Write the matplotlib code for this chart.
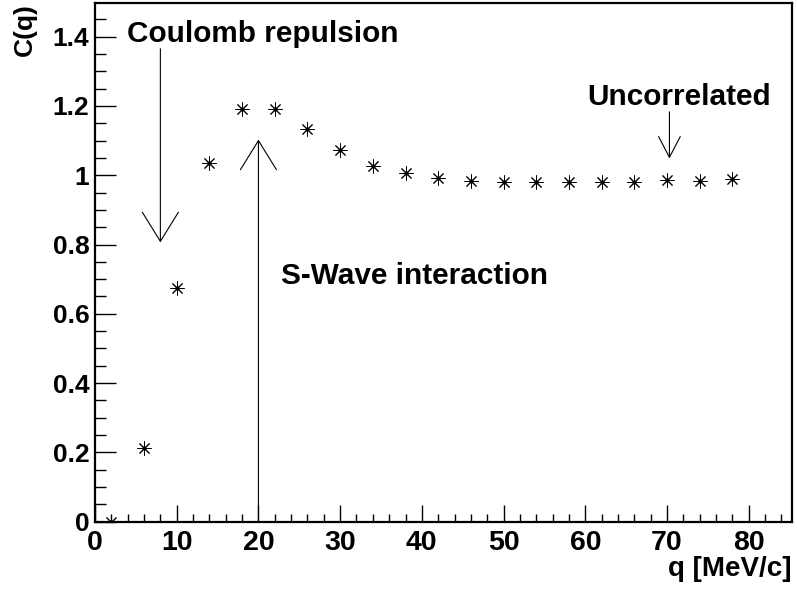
import numpy as np
import matplotlib
matplotlib.use("Agg")
import matplotlib.pyplot as plt
from matplotlib.ticker import MultipleLocator

plt.rcParams['font.family'] = ['Liberation Sans', 'DejaVu Sans']
plt.rcParams['font.weight'] = 'bold'

# -----------------------------
# DATA
# -----------------------------
q = [2, 6, 10, 14, 18, 22, 26, 30, 34, 38, 42, 46, 50, 54, 58, 62, 66, 70, 74, 78]
cq = [0.0, 0.213, 0.674, 1.034, 1.190, 1.190, 1.133, 1.074, 1.028, 1.005,
      0.991, 0.982, 0.980, 0.980, 0.981, 0.981, 0.981, 0.986, 0.983, 0.988]

labels = ["Coulomb repulsion", "S-Wave interaction", "Uncorrelated"]

# -----------------------------
# FIGURE
# -----------------------------
fig = plt.figure(figsize=(7.97, 5.90), dpi=100)
ax = fig.add_axes([95 / 797, 1 - 521.7 / 590, 697 / 797, 518.7 / 590])

ax.plot(q, cq, linestyle='none', marker=(8, 2, 0), markersize=10,
        markeredgewidth=0.7, color='black')
ax.plot(q, cq, linestyle='none', marker='o', markersize=2, color='black')

ax.set_xlim(0, 85.3)
ax.set_ylim(0, 1.497)

ax.xaxis.set_major_locator(MultipleLocator(10))
ax.xaxis.set_minor_locator(MultipleLocator(2))
ax.yaxis.set_major_locator(MultipleLocator(0.2))
ax.yaxis.set_minor_locator(MultipleLocator(0.05))
ax.yaxis.set_major_formatter(plt.FuncFormatter(lambda v, p: f"{v:g}"))

ax.tick_params(axis='x', which='major', direction='in', length=12, width=1,
               labelsize=20.5, pad=6)
ax.tick_params(axis='x', which='minor', direction='in', length=6, width=1)
ax.tick_params(axis='y', which='major', direction='in', length=15, width=1,
               labelsize=19, pad=4)
ax.tick_params(axis='y', which='minor', direction='in', length=8, width=1)
for s in ax.spines.values():
    s.set_linewidth(1.6)

fig.text(792 / 797, 1 - 576 / 590, "q [MeV/c]", ha='right', va='baseline',
         fontsize=20, fontweight='bold')
fig.text(25 / 797, 1 - 3 / 590, "C(q)", ha='center', va='top', rotation=90,
         fontsize=19, fontweight='bold')

# -----------------------------
# ANNOTATIONS
# -----------------------------
ax.text(3.9, 1.384, labels[0], fontsize=21.4, fontweight='bold', va='baseline')
ax.text(22.8, 0.687, labels[1], fontsize=21.4, fontweight='bold', va='baseline')
ax.text(60.2, 1.204, labels[2], fontsize=21.4, fontweight='bold', va='baseline')

big_head = '->,head_length=2.1,head_width=1.3'
small_head = '->,head_length=1.5,head_width=0.78'
ax.annotate('', xy=(8, 0.806), xytext=(8, 1.365),
            arrowprops=dict(arrowstyle=big_head, lw=0.8, color='black',
                            mutation_scale=10, shrinkA=0, shrinkB=0))
ax.annotate('', xy=(20, 1.103), xytext=(20, 0.0),
            arrowprops=dict(arrowstyle=big_head, lw=0.8, color='black',
                            mutation_scale=10, shrinkA=0, shrinkB=0))
ax.annotate('', xy=(70.3, 1.048), xytext=(70.3, 1.183),
            arrowprops=dict(arrowstyle=small_head, lw=0.8, color='black',
                            mutation_scale=10, shrinkA=0, shrinkB=0))

fig.savefig("out.png", dpi=100)
